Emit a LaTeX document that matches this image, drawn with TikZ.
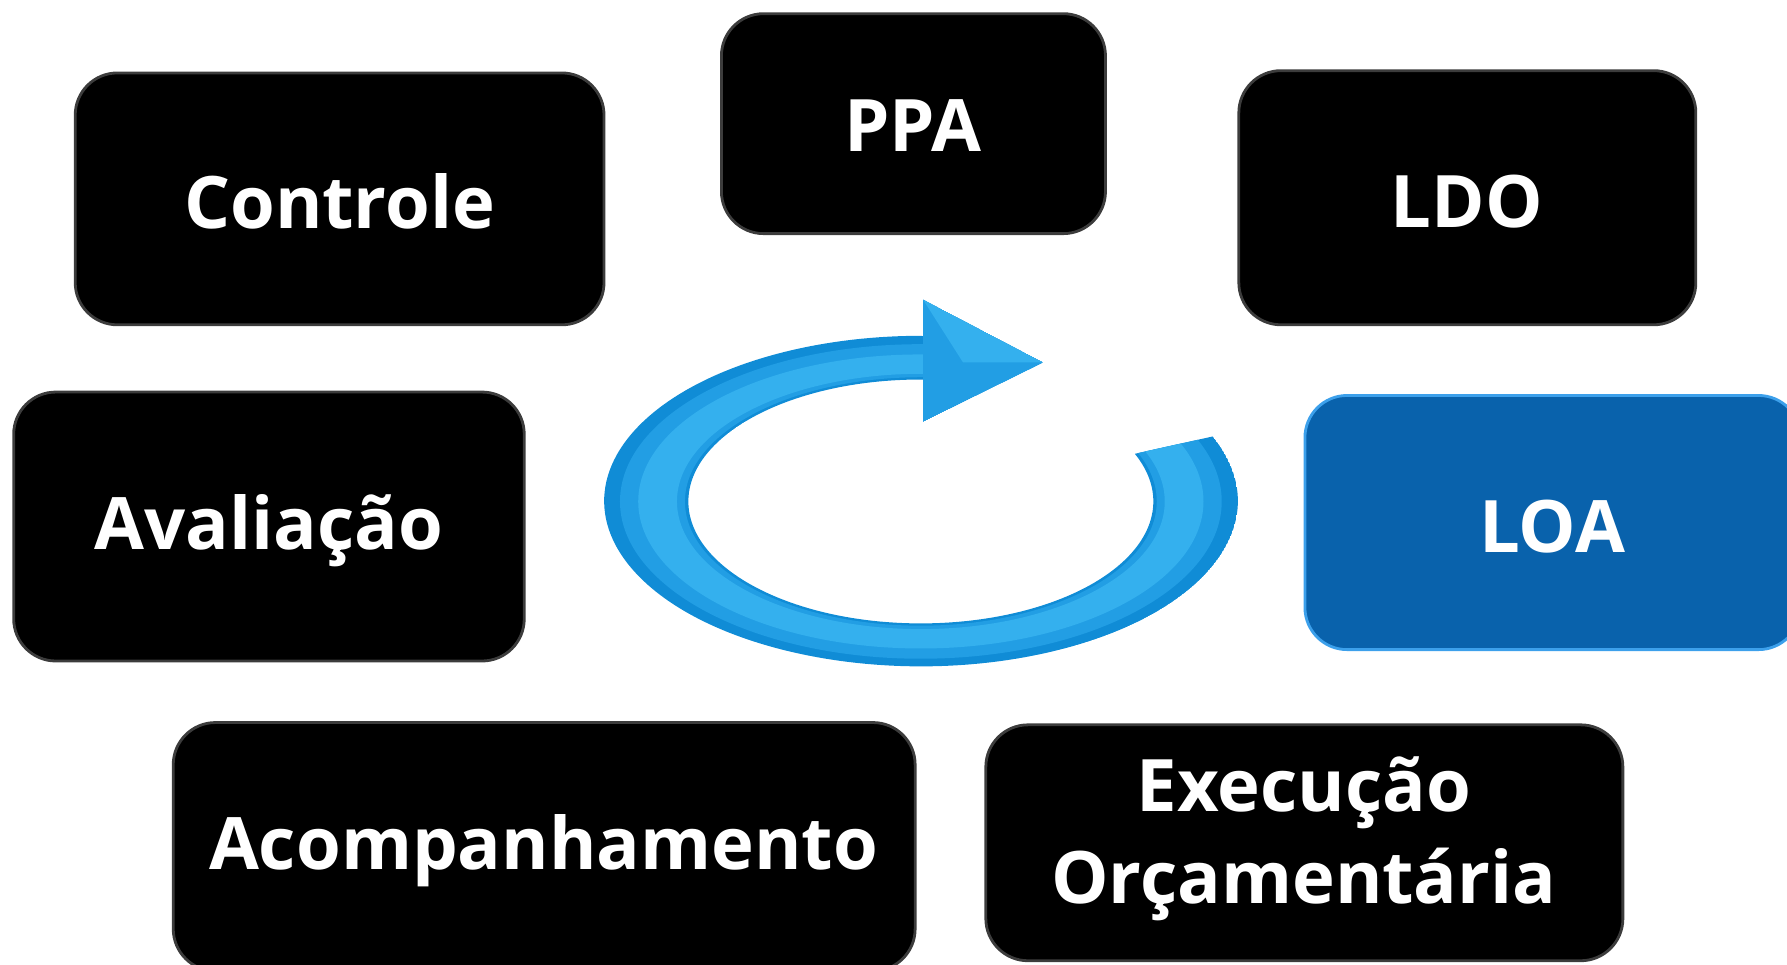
\documentclass[tikz,border=0pt]{standalone}
\usepackage{fontspec}
\setmainfont{Open Sans}
\usetikzlibrary{fit}
\definecolor{arrowblue}{RGB}{16,140,214}
\definecolor{arrowmid}{RGB}{34,158,228}
\definecolor{arrowlight}{RGB}{52,176,238}
\definecolor{loablue}{RGB}{9,98,172}
\definecolor{loarim}{RGB}{60,160,235}
\definecolor{rim}{RGB}{60,60,60}
\begin{document}
\begin{tikzpicture}[x=0.011397cm,y=-0.011397cm,
  blk/.style={rounded corners=12pt, fill=black, draw=rim, line width=0.8pt, inner sep=0pt},
  loa/.style={blk, fill=loablue, draw=loarim},
  lbl/.style={text=white, font=\bfseries\fontsize{20.6}{26.3}\selectfont, align=center, inner sep=0pt}]
\useasboundingbox (0,0) rectangle (1568,846);
\clip (0,0) rectangle (1568,846);
\node[blk, fit={(66,64)(530,285)}] (controle) {};
\node[blk, fit={(633,12)(970,205)}] (ppa) {};
\node[blk, fit={(1087,62)(1488,285)}] (ldo) {};
\node[blk, fit={(12,344)(460,580)}] (avaliacao) {};
\node[loa, fit={(1145,347)(1580,570)}] (loa) {};
\node[blk, fit={(152,634)(803,852)}] (acomp) {};
\node[blk, fit={(865,636)(1424,843)}] (exec) {};
\node[lbl] (controle-t) at (298,177) {Controle};
\node[lbl] (ppa-t) at (801,110) {PPA};
\node[lbl] (ldo-t) at (1287,177) {LDO};
\node[lbl] (avaliacao-t) at (236,466) {Avaliação};
\node[lbl] (loa-t) at (1362,462) {LOA};
\node[lbl] (acomp-t) at (477,746) {Acompanhamento};
\node[lbl] (exec-t) at (1144,736) {Execução\\Orçamentária};
\def\arrowpath{(1064,383) arc[start angle=-23, end angle=270, x radius=278, y radius=145]
  -- (810,295) -- (810,263) -- (915,318) -- (810,370) -- (810,333) -- (808,333)
  arc[start angle=270, end angle=-23, x radius=204, y radius=107] -- cycle}
\begin{scope}
\clip \arrowpath;
\fill[arrowblue] \arrowpath;
\fill[arrowmid, even odd rule] (808,440) ellipse[x radius=264, y radius=138]
  (808,440) ellipse[x radius=207, y radius=109];
\fill[arrowlight, even odd rule] (808,440) ellipse[x radius=248, y radius=129]
  (808,440) ellipse[x radius=214, y radius=112];
\fill[arrowmid] (810,263) -- (915,318) -- (810,370) -- cycle;
\fill[arrowlight] (810,263) -- (915,318) -- (845,318) -- cycle;
\end{scope}
\end{tikzpicture}
\end{document}
